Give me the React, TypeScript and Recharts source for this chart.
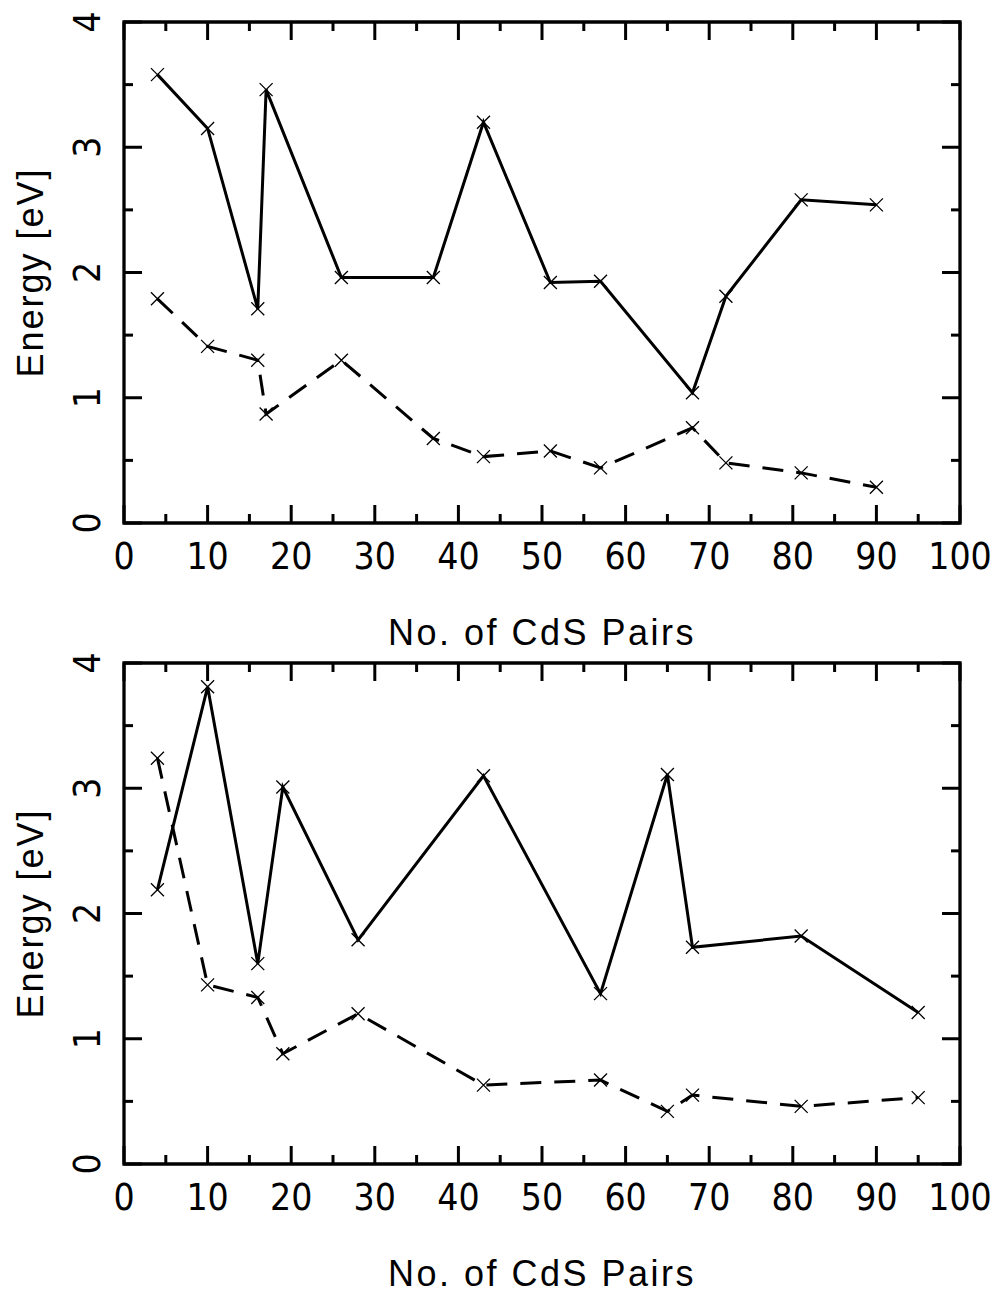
import React from "react";
import { LineChart, Line, XAxis, YAxis, ReferenceArea, Label } from "recharts";

// values
const pairsTop = [4, 10, 16, 17, 26, 37, 43, 51, 57, 68, 72, 81, 90];
const solidTop = [3.58, 3.15, 1.71, 3.46, 1.96, 1.96, 3.2, 1.92, 1.93, 1.04, 1.81, 2.58, 2.54];
const dashedTop = [1.79, 1.41, 1.3, 0.87, 1.3, 0.675, 0.53, 0.575, 0.44, 0.76, 0.48, 0.4, 0.285];

const pairsBottom = [4, 10, 16, 19, 28, 43, 57, 65, 68, 81, 95];
const solidBottom = [2.19, 3.81, 1.6, 3.01, 1.79, 3.1, 1.36, 3.11, 1.73, 1.82, 1.21];
const dashedBottom = [3.24, 1.43, 1.33, 0.88, 1.2, 0.63, 0.67, 0.42, 0.55, 0.46, 0.53];

const xTicks = [0, 5, 10, 15, 20, 25, 30, 35, 40, 45, 50, 55, 60, 65, 70, 75, 80, 85, 90, 95, 100];
const yTicks = [0, 0.5, 1, 1.5, 2, 2.5, 3, 3.5, 4];

const xTitle = "No. of CdS Pairs";
const yTitle = "Energy [eV]";

const W = 983;
const H = 648;
const PLOT_W = 836;
const PLOT_H = 501;
const numFont = "'Liberation Sans Narrow', 'DejaVu Sans Condensed', 'Liberation Sans', sans-serif";
const titleFont = "'Liberation Sans', sans-serif";

const XTick = ({ x, y, payload }: any) => {
  const major = payload.value % 10 === 0;
  const len = major ? 18 : 9;
  return (
    <g>
      <line x1={x} y1={y} x2={x} y2={y - len} stroke="#000" strokeWidth={3} />
      <line x1={x} y1={y - PLOT_H} x2={x} y2={y - PLOT_H + len} stroke="#000" strokeWidth={3} />
      {major && (
        <text x={x} y={y + 33} textAnchor="middle" dominantBaseline="central"
          fontFamily={numFont} fontSize={37} fill="#000">
          {payload.value}
        </text>
      )}
    </g>
  );
};

const YTick = ({ x, y, payload }: any) => {
  const major = Number.isInteger(payload.value);
  const len = major ? 18 : 9;
  const lx = x - 37;
  return (
    <g>
      <line x1={x} y1={y} x2={x + len} y2={y} stroke="#000" strokeWidth={3} />
      <line x1={x + PLOT_W} y1={y} x2={x + PLOT_W - len} y2={y} stroke="#000" strokeWidth={3} />
      {major && (
        <text x={lx} y={y} textAnchor="middle" dominantBaseline="central"
          transform={`rotate(-90, ${lx}, ${y})`}
          fontFamily={numFont} fontSize={37} fill="#000">
          {payload.value}
        </text>
      )}
    </g>
  );
};

const Cross = (props: any) => {
  const { cx, cy } = props;
  const s = 6.5;
  return (
    <path
      key={`c-${cx}-${cy}`}
      d={`M${cx - s},${cy - s}L${cx + s},${cy + s}M${cx - s},${cy + s}L${cx + s},${cy - s}`}
      stroke="#000" strokeWidth={1.3} fill="none"
    />
  );
};

const XTitle = ({ viewBox }: any) => (
  <text x={viewBox.x + viewBox.width / 2} y={viewBox.y + 122} textAnchor="middle"
    fontFamily={titleFont} fontSize={36} letterSpacing={2.5} fill="#000">
    {xTitle}
  </text>
);

const YTitle = ({ viewBox }: any) => {
  const tx = viewBox.x + 35;
  const ty = viewBox.y + viewBox.height / 2;
  return (
    <text x={tx} y={ty} textAnchor="middle"
      transform={`rotate(-90, ${tx}, ${ty})`}
      fontFamily={titleFont} fontSize={36} letterSpacing={2} fill="#000">
      {yTitle}
    </text>
  );
};

function Panel({ xs, solid, dashed }: { xs: number[]; solid: number[]; dashed: number[] }) {
  const data = xs.map((x, i) => ({ x, solid: solid[i], dashed: dashed[i] }));
  return (
    <LineChart width={W} height={H} data={data} margin={{ top: 14, right: 31, left: 0, bottom: 0 }}>
      <XAxis dataKey="x" type="number" domain={[0, 100]} ticks={xTicks} interval={0}
        height={H - 14 - PLOT_H} tickSize={0} tickMargin={0} tickLine={false} axisLine={false} tick={<XTick />}>
        <Label content={<XTitle />} />
      </XAxis>
      <YAxis type="number" domain={[0, 4]} ticks={yTicks} interval={0}
        width={116} tickSize={0} tickMargin={0} tickLine={false} axisLine={false} tick={<YTick />}>
        <Label content={<YTitle />} />
      </YAxis>
      <ReferenceArea x1={0} x2={100} y1={0} y2={4} fill="none" stroke="#000" strokeWidth={3.3}
        ifOverflow="visible" />
      <Line type="linear" dataKey="solid" stroke="#000" strokeWidth={3}
        dot={Cross} activeDot={false} isAnimationActive={false} />
      <Line type="linear" dataKey="dashed" stroke="#000" strokeWidth={3} strokeDasharray="21 13"
        dot={Cross} activeDot={false} isAnimationActive={false} />
    </LineChart>
  );
}

export default function App() {
  return (
    <div style={{ position: "absolute", left: 0, top: 0, width: 999, height: 1293, overflow: "hidden", background: "#fff" }}>
      <div style={{ position: "absolute", left: 8, top: 8 }}>
        <Panel xs={pairsTop} solid={solidTop} dashed={dashedTop} />
      </div>
      <div style={{ position: "absolute", left: 8, top: 649 }}>
        <Panel xs={pairsBottom} solid={solidBottom} dashed={dashedBottom} />
      </div>
    </div>
  );
}
